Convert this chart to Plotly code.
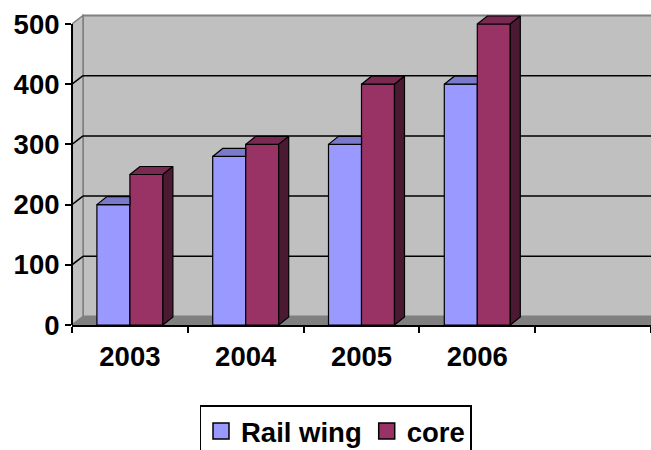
import plotly.graph_objects as go

# ---- data ----
years = ["2003", "2004", "2005", "2006"]
rail_wing = [200, 280, 300, 400]
core = [250, 300, 400, 500]
series_names = ["Rail wing", "core"]
y_ticks = [0, 100, 200, 300, 400, 500]
n_slots = 5  # four years + one empty category slot

# ---- styling / geometry ----
W, H = 651, 450
L, T, B, R_M = 72, 10, 125, 0
plot_w = W - L - R_M
plot_h = H - T - B
y_max_val = 500
PY = (H - B - 24) / y_max_val          # px per y unit
y_range_top = plot_h / PY
KX = plot_w / n_slots                   # px per x unit
bar_w = 0.285
BDX, BDY = 10 / KX, 8 / PY              # bar depth offsets
WDX, WDY = 11 / KX, 8.5 / PY            # wall depth offsets
x_lo, x_hi = -0.5, n_slots - 0.5

c_blue, c_blue_top = "#9999FF", "#7A7ACC"
c_red, c_red_top, c_red_side = "#993366", "#7A2952", "#4C1933"
wall, wall_edge, floor_c = "#C0C0C0", "#808080", "#808080"
FONT = "Arial, Liberation Sans, sans-serif"
FS = 27.5

xs = list(range(len(years)))

fig = go.Figure()

# front faces
fig.add_trace(go.Bar(x=xs, y=rail_wing, name=series_names[0], marker=dict(color=c_blue, line=dict(color="black", width=1.2)), showlegend=False))
fig.add_trace(go.Bar(x=xs, y=core, name=series_names[1], marker=dict(color=c_red, line=dict(color="black", width=1.2)), showlegend=False))

# 3D faces computed from data
bx, by = [], []
for i, v in zip(xs, rail_wing):
    bx += [i - bar_w, i - bar_w + BDX, i, i, i - bar_w, None]
    by += [v, v + BDY, v + BDY, v, v, None]
fig.add_trace(go.Scatter(x=bx, y=by, mode="lines", fill="toself", fillcolor=c_blue_top,
                         line=dict(color="black", width=1.2), showlegend=False, hoverinfo="skip"))
tx, ty, sx, sy = [], [], [], []
for i, v in zip(xs, core):
    tx += [i, i + BDX, i + bar_w + BDX, i + bar_w, i, None]
    ty += [v, v + BDY, v + BDY, v, v, None]
    sx += [i + bar_w, i + bar_w, i + bar_w + BDX, i + bar_w + BDX, i + bar_w, None]
    sy += [0, v, v + BDY, BDY, 0, None]
fig.add_trace(go.Scatter(x=tx, y=ty, mode="lines", fill="toself", fillcolor=c_red_top,
                         line=dict(color="black", width=1.2), showlegend=False, hoverinfo="skip"))
fig.add_trace(go.Scatter(x=sx, y=sy, mode="lines", fill="toself", fillcolor=c_red_side,
                         line=dict(color="black", width=1.2), showlegend=False, hoverinfo="skip"))

# legend entries
for nm, col in zip(series_names, [c_blue, c_red]):
    fig.add_trace(go.Scatter(x=[None], y=[None], mode="markers", name=nm,
                             marker=dict(symbol="square", size=16, color=col, line=dict(color="black", width=1.5))))

shapes = []
# back wall
shapes.append(dict(type="rect", xref="x", yref="y", x0=x_lo + WDX, x1=x_hi + 0.05, y0=WDY, y1=y_max_val + WDY,
                   fillcolor=wall, line=dict(color=wall_edge, width=2), layer="below"))
# left wall
shapes.append(dict(type="path", xref="x", yref="y",
                   path=f"M {x_lo},0 L {x_lo},{y_max_val} L {x_lo+WDX},{y_max_val+WDY} L {x_lo+WDX},{WDY} Z",
                   fillcolor=wall, line=dict(color=wall_edge, width=1.5), layer="below"))
# floor
shapes.append(dict(type="path", xref="x", yref="y",
                   path=f"M {x_lo},0 L {x_lo+WDX},{WDY} L {x_hi+0.05},{WDY} L {x_hi+0.05},0 Z",
                   fillcolor=floor_c, line=dict(color=floor_c, width=1), layer="below"))
# gridlines
for v in y_ticks[1:-1]:
    shapes.append(dict(type="line", xref="x", yref="y", x0=x_lo + WDX, x1=x_hi + 0.05, y0=v + WDY, y1=v + WDY,
                       line=dict(color="black", width=1.5), layer="below"))
    shapes.append(dict(type="line", xref="x", yref="y", x0=x_lo, x1=x_lo + WDX, y0=v, y1=v + WDY,
                       line=dict(color="black", width=1.5), layer="below"))
# y axis line (ends at top tick)
shapes.append(dict(type="line", xref="paper", yref="paper", x0=0, x1=0, y0=0, y1=y_max_val / y_range_top,
                   line=dict(color="black", width=2), layer="above"))

fig.update_layout(
    width=W, height=H,
    margin=dict(l=L, r=R_M, t=T, b=B, autoexpand=False),
    paper_bgcolor="white", plot_bgcolor="white",
    barmode="group", bargap=0.43, bargroupgap=0,
    font=dict(family=FONT, color="black"),
    shapes=shapes,
    showlegend=True,
    legend=dict(orientation="h", xanchor="center", x=(335.5 - L) / plot_w, yanchor="top",
                y=(H - B - 405) / plot_h, bordercolor="black", borderwidth=1.5, bgcolor="white",
                font=dict(size=FS, family=FONT, weight="bold", color="black"), itemwidth=30,
                tracegroupgap=0),
    xaxis=dict(range=[x_lo, x_hi], tickvals=xs, ticktext=years, ticks="", showgrid=False, zeroline=False,
               showline=True, linecolor="black", linewidth=2, ticklabelstandoff=6,
               tickfont=dict(size=FS, family=FONT, weight="bold", color="black"),
               minor=dict(tickvals=[k - 0.5 for k in range(n_slots + 1)], ticks="outside", ticklen=6,
                          tickwidth=2, tickcolor="black", showgrid=False)),
    yaxis=dict(range=[0, y_range_top], tickvals=y_ticks, ticks="outside", ticklen=6, tickwidth=2,
               tickcolor="black", showgrid=False, zeroline=False, showline=False,
               tickfont=dict(size=FS, family=FONT, weight="bold", color="black")),
)

fig.write_html("out.html")
